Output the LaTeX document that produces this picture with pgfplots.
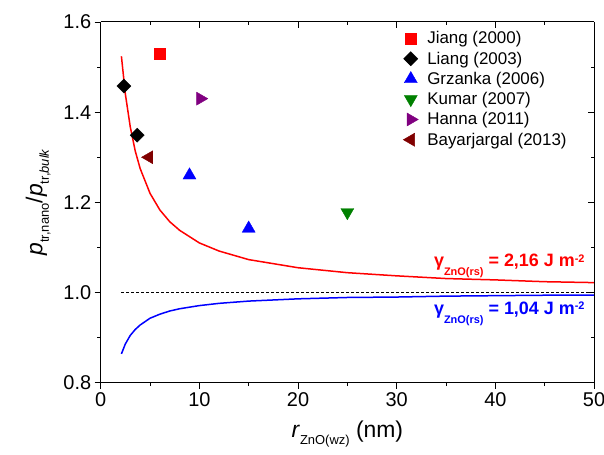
\documentclass[border=0pt]{standalone}
\usepackage{fontspec}
\setmainfont{Liberation Sans}
\usepackage{pgfplots}
\pgfplotsset{compat=1.18}
\definecolor{mygreen}{RGB}{0,128,0}
\definecolor{mypurple}{RGB}{128,0,128}
\definecolor{mydarkred}{RGB}{128,0,0}
\newcommand{\sub}[1]{\raisebox{-0.55ex}{\fontsize{13}{15}\selectfont #1}}
\begin{document}
\begin{tikzpicture}
\useasboundingbox (-100.7bp,-72.3bp) rectangle (503.3bp,382.7bp);
\begin{axis}[
  at={(0,0)}, anchor=south west,
  scale only axis, width=493.3bp, height=360.7bp,
  xmin=0, xmax=50, ymin=0.8, ymax=1.6,
  xtick={0,10,20,30,40,50}, ytick={0.8,1.0,1.2,1.4,1.6},
  minor xtick={5,15,25,35,45}, minor ytick={0.9,1.1,1.3,1.5},
  axis x line*=bottom, axis y line*=left,
  tick align=outside, major tick length=6bp, minor tick length=3.5bp,
  axis line style={line width=1bp, black},
  every tick/.style={line width=1bp, black},
  /pgf/number format/assume math mode=true,
  yticklabel style={/pgf/number format/.cd, fixed, fixed zerofill, precision=1},
  ticklabel style={font=\fontsize{20}{24}\selectfont},
  label style={font=\fontsize{23}{28}\selectfont},
  xlabel shift=8bp, ylabel shift=6bp,
  xlabel={\textit{r}\sub{ZnO(wz)} (nm)},
  ylabel={\textit{p}\sub{tr,nano}/\textit{p}\sub{tr,\textit{bulk}}},
  legend style={draw=none, fill=none, at={(0.955,0.985)}, anchor=north east,
    font=\fontsize{17}{20}\selectfont, row sep=2.5bp,
    /tikz/every odd column/.append style={column sep=7bp}},
  legend cell align=left,
]
\addplot[forget plot, red, line width=1.5bp] coordinates {
(2.1,1.524) (2.5,1.440) (3,1.367) (3.5,1.314) (4,1.275) (5,1.220) (6,1.183) (7,1.157) (8,1.138) (10,1.110) (12,1.092) (15,1.073) (20,1.055) (25,1.044) (30,1.037) (35,1.031) (40,1.028) (45,1.024) (50,1.022)};
\addplot[forget plot, blue, line width=1.5bp] coordinates {
(2.1,0.864) (2.5,0.886) (3,0.905) (3.5,0.918) (4,0.928) (5,0.943) (6,0.952) (7,0.959) (8,0.964) (10,0.971) (12,0.976) (15,0.981) (20,0.986) (25,0.989) (30,0.990) (35,0.992) (40,0.993) (45,0.994) (50,0.994)};
\addplot[forget plot, black, line width=0.8bp, dash pattern=on 3bp off 2bp] coordinates {(2.1,1.0) (50,1.0)};
\addplot[only marks, mark=square*, mark size=5.5bp, color=red] coordinates {(6.0,1.53)};
\addlegendentry{Jiang (2000)}
\addplot[only marks, mark=square*, mark size=5bp, mark options={rotate=45}, color=black] coordinates {(2.35,1.458) (3.7,1.349)};
\addlegendentry{Liang (2003)}
\addplot[only marks, mark=triangle*, mark size=7.5bp, color=blue] coordinates {(9.0,1.26) (15.0,1.142)};
\addlegendentry{Grzanka (2006)}
\addplot[only marks, mark=triangle*, mark size=7.5bp, mark options={rotate=180}, color=mygreen] coordinates {(25.0,1.178)};
\addlegendentry{Kumar (2007)}
\addplot[only marks, mark=triangle*, mark size=7.5bp, mark options={rotate=-90}, color=mypurple] coordinates {(10.1,1.43)};
\addlegendentry{Hanna (2011)}
\addplot[only marks, mark=triangle*, mark size=7.5bp, mark options={rotate=90}, color=mydarkred] coordinates {(4.9,1.30)};
\addlegendentry{Bayarjargal (2013)}
\node[anchor=base east, text=red, font=\fontsize{18}{20}\selectfont\bfseries] at (axis cs:49.4,1.057)
  {γ\raisebox{-9bp}{\fontsize{11}{13}\selectfont ZnO(rs)} = 2,16 J m\raisebox{4.5bp}{\fontsize{11}{13}\selectfont -2}};
\node[anchor=base east, text=blue, font=\fontsize{18}{20}\selectfont\bfseries] at (axis cs:49.4,0.952)
  {γ\raisebox{-9bp}{\fontsize{11}{13}\selectfont ZnO(rs)} = 1,04 J m\raisebox{4.5bp}{\fontsize{11}{13}\selectfont -2}};
\end{axis}
\begin{axis}[
  at={(0,0)}, anchor=south west,
  scale only axis, width=493.3bp, height=360.7bp,
  xmin=0, xmax=50, ymin=0.8, ymax=1.6,
  xtick={0,10,20,30,40,50}, ytick={0.8,1.0,1.2,1.4,1.6},
  minor xtick={5,15,25,35,45}, minor ytick={0.9,1.1,1.3,1.5},
  axis x line*=top, axis y line*=right,
  tick align=inside, major tick length=6bp, minor tick length=3.5bp,
  axis line style={line width=1bp, black},
  every tick/.style={line width=1bp, black},
  xticklabels={}, yticklabels={},
]
\end{axis}
\end{tikzpicture}
\end{document}
